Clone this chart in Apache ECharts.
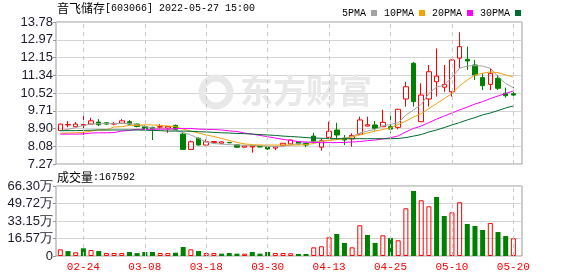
<!DOCTYPE html>
<html><head><meta charset="utf-8">
<script src="https://cdn.jsdelivr.net/npm/echarts@6/dist/echarts.min.js"></script>
<style>html,body{margin:0;padding:0;background:#fff}#c{width:578px;height:276px}</style>
</head><body><div id="c"></div>
<script>
var dates = ['02-21','02-22','02-23','02-24','02-25','02-28','03-01','03-02','03-03','03-04','03-07','03-08','03-09','03-10','03-11','03-14','03-15','03-16','03-17','03-18','03-21','03-22','03-23','03-24','03-25','03-28','03-29','03-30','03-31','04-01','04-06','04-07','04-08','04-11','04-12','04-13','04-14','04-15','04-18','04-19','04-20','04-21','04-22','04-25','04-26','04-27','04-28','04-29','05-05','05-06','05-09','05-10','05-11','05-12','05-13','05-16','05-17','05-18','05-19','05-20'];
var openP = [8.80,9.06,8.98,9.04,9.10,9.19,9.16,9.10,9.14,9.21, 9.10,8.98,8.95,8.96,8.92,9.04,8.64,7.94,8.45,8.14, 8.25,8.22,8.26,8.15,8.04,8.05,8.07,8.06,8.00,8.13, 8.19,8.29,8.22,8.55,8.04,8.49,8.83,8.45,8.42,8.64, 9.01,9.06,8.98,8.98,8.95,10.25,11.89,9.21,10.25,11.04, 10.79,10.58,12.12,12.07,11.81,11.23,10.92,11.20,10.51,10.49];
var closeP = [9.10,9.08,9.10,9.08,9.25,9.07,9.10,9.13,9.25,9.10, 8.99,8.89,8.88,8.98,8.99,8.86,7.94,8.29,8.14,8.29, 8.30,8.28,8.24,8.04,8.10,8.09,8.05,7.96,8.06,8.22, 8.37,8.19,8.14,8.29,8.34,8.77,8.60,8.37,8.58,9.29, 9.07,8.91,9.18,8.87,9.78,10.81,10.13,10.43,11.50,11.30, 10.92,12.04,12.65,11.99,11.35,10.86,11.43,10.74,10.40,10.43];
var lowP = [8.78,8.95,8.95,8.60,9.08,9.01,9.07,9.04,9.12,9.07, 8.95,8.86,8.37,8.86,8.70,8.84,7.92,7.92,8.12,8.12, 8.22,8.20,8.23,8.02,8.03,7.79,8.04,7.92,7.91,8.12, 8.17,8.17,8.04,8.22,7.88,8.47,8.37,8.14,8.06,8.60, 9.00,8.80,8.96,8.68,8.86,9.90,9.90,9.20,9.90,10.36, 10.58,10.36,11.66,11.58,11.12,10.66,10.66,10.66,10.31,10.38];
var highP = [9.12,9.24,9.19,9.52,9.39,9.33,9.19,9.19,9.33,9.29, 9.12,9.04,8.98,9.10,9.00,9.08,8.75,8.34,8.49,8.40, 8.32,8.31,8.27,8.16,8.11,8.10,8.08,8.07,8.07,8.23, 8.38,8.31,8.24,8.70,8.45,9.21,9.16,8.60,8.68,9.44, 9.44,9.24,9.75,9.47,9.80,11.04,11.95,10.97,11.81,12.57, 11.81,12.07,13.31,12.65,12.04,11.43,11.66,11.35,10.77,10.80];
var volume = [63000,47000,35000,73000,57000,47000,28000,28000,28000,38000, 28000,38000,38000,28000,28000,31000,85000,63000,47000,28000, 28000,22000,28000,22000,22000,38000,22000,38000,28000,28000, 26000,19000,19000,82000,92000,177000,208000,123000,82000,291000, 199000,123000,196000,170000,149000,452000,616000,528000,471000,559000, 379000,414000,509000,303000,284000,246000,313000,227000,189000,167592];
var ma5 = [8.80,8.86,8.94,9.04,9.10,9.12,9.12,9.12,9.13,9.13, 9.07,8.99,8.92,8.89,8.86,8.81,8.71,8.60,8.44,8.28, 8.21,8.18,8.16,8.14,8.13,8.12,8.11,8.08,8.08,8.08, 8.14,8.21,8.26,8.29,8.32,8.36,8.42,8.46,8.54,8.69, 8.78,8.86,9.02,9.08,9.16,9.51,9.75,10.00,10.50,10.80, 10.88,11.24,11.66,11.76,11.78,11.76,11.66,11.28,10.96,10.77];
var ma10 = [8.68,8.69,8.70,8.72,8.78,8.83,8.83,8.97,8.98,9.04, 9.04,9.07,9.06,9.04,9.01,8.99,8.87,8.78,8.69,8.60, 8.53,8.44,8.35,8.26,8.19,8.16,8.14,8.14,8.14,8.14, 8.14,8.14,8.16,8.21,8.30,8.35,8.39,8.42,8.51,8.60, 8.69,8.78,8.85,8.93,9.08,9.24,9.42,9.58,9.81,10.04, 10.27,10.50,10.85,11.12,11.35,11.43,11.49,11.46,11.35,11.26];
var ma20 = [8.64,8.64,8.64,8.65,8.69,8.70,8.70,8.71,8.78,8.81, 8.86,8.86,8.86,8.87,8.87,8.89,8.90,8.90,8.87,8.86, 8.85,8.83,8.79,8.76,8.69,8.64,8.58,8.52,8.46,8.40, 8.35,8.30,8.28,8.26,8.25,8.25,8.25,8.26,8.28,8.30, 8.34,8.37,8.42,8.47,8.56,8.74,8.90,9.01,9.17,9.33, 9.47,9.61,9.75,9.88,10.02,10.13,10.27,10.39,10.50,10.62];
var ma30 = [8.80,8.80,8.80,8.81,8.82,8.83,8.83,8.83,8.83,8.83, 8.83,8.82,8.81,8.80,8.78,8.78,8.78,8.77,8.75,8.74, 8.72,8.70,8.69,8.67,8.66,8.64,8.62,8.60,8.58,8.55, 8.53,8.51,8.48,8.46,8.45,8.44,8.43,8.43,8.43,8.43, 8.43,8.43,8.43,8.43,8.44,8.48,8.55,8.62,8.74,8.83, 8.94,9.06,9.17,9.29,9.40,9.52,9.61,9.72,9.84,9.93];
var priceTicks = ['7.27','8.08','8.90','9.71','10.52','11.34','12.15','12.97','13.78'];
var volTicks = ['0','16.57万','33.15万','49.72万','66.30万'];
var gridDates = ['02-24','03-08','03-18','03-30','04-13','04-25','05-10','05-20'];

var RED = '#ff0000', GREEN = '#008000';
var chart = echarts.init(document.getElementById('c'), null, {renderer: 'canvas'});

var kData = dates.map(function (d, i) { return [openP[i], closeP[i], lowP[i], highP[i]]; });
var volData = volume.map(function (v, i) {
  var up = i === 0 || closeP[i] >= closeP[i - 1];
  return {value: v, itemStyle: up ? {color: 'rgba(255,255,255,0)', borderColor: RED, borderWidth: 1} : {color: GREEN, borderWidth: 0}};
});
var dashLines = gridDates.map(function (d) { return {xAxis: d}; });
function markL() {
  return {silent: true, symbol: ['none', 'none'], label: {show: false},
    lineStyle: {color: '#c8c8c8', type: [4, 4], width: 1}, emphasis: {disabled: true}, data: dashLines};
}
var axFont = {fontFamily: 'Liberation Sans, Arial', fontSize: 13, color: '#1a1a2a'};
function maSeries(name, data, color) {
  return {name: name, type: 'line', xAxisIndex: 0, yAxisIndex: 0, data: data, symbol: 'none', showSymbol: false,
    lineStyle: {width: 1, color: color}, itemStyle: {color: color}, z: 4, silent: true};
}

chart.setOption({
  animation: false,
  backgroundColor: '#fff',
  legend: {
    data: ['5PMA', '10PMA', '20PMA', '30PMA'], left: 337, top: 3, icon: 'rect', itemWidth: 6, itemHeight: 6,
    itemGap: 7, align: 'right', selectedMode: false,
    textStyle: {fontFamily: 'Liberation Mono, monospace', fontSize: 10, color: '#000', padding: [0, 0, 0, 0]}
  },
  graphic: [
    {type: 'text', left: 57, top: 2, z: 10, style: {text: '{a|音飞储存}{b|[603066] 2022-05-27 15:00}',
      rich: {a: {fontFamily: 'Noto Sans CJK SC', fontSize: 12, fill: '#000'}, b: {fontFamily: 'Liberation Mono, monospace', fontSize: 10, fill: '#000'}}}},
    {type: 'text', left: 57, top: 171, z: 10, style: {text: '{a|成交量}{b|:167592}',
      rich: {a: {fontFamily: 'Noto Sans CJK SC', fontSize: 12, fill: '#000'}, b: {fontFamily: 'Liberation Mono, monospace', fontSize: 10, fill: '#000'}}}},
    {type: 'circle', z: 1, shape: {cx: 216, cy: 92, r: 14}, style: {fill: 'none', stroke: '#e8e8e8', lineWidth: 7}},
    {type: 'text', left: 240, top: 74, z: 1, style: {text: '东方财富', fontFamily: 'Noto Sans CJK SC', fontWeight: 'bold', fontSize: 33, fill: '#e8e8e8'}}
  ],
  grid: [
    {left: 56.5, top: 22, width: 460.7, height: 142, show: false},
    {left: 56, top: 22, width: 466, height: 142, show: true, borderColor: '#999', borderWidth: 1, backgroundColor: 'transparent'},
    {left: 56.5, top: 186, width: 460.7, height: 70, show: false},
    {left: 56, top: 186, width: 466, height: 70, show: true, borderColor: '#999', borderWidth: 1, backgroundColor: 'transparent'}
  ],
  xAxis: [
    {type: 'category', gridIndex: 0, data: dates, boundaryGap: true, axisLine: {show: false}, axisTick: {show: false}, axisLabel: {show: false}, splitLine: {show: false}},
    {type: 'value', gridIndex: 1, min: 0, max: 1, show: false},
    {type: 'category', gridIndex: 2, data: dates, boundaryGap: true, axisLine: {show: false}, axisTick: {show: false}, splitLine: {show: false},
      axisLabel: {show: true, interval: function (idx) { return (idx - 3) % 8 === 0; }, color: RED, fontFamily: 'Liberation Mono, monospace', fontSize: 11, margin: 6}},
    {type: 'value', gridIndex: 3, min: 0, max: 1, show: false}
  ],
  yAxis: [
    {type: 'value', gridIndex: 0, min: 7.27, max: 13.78, show: false},
    {type: 'value', gridIndex: 1, min: 0, max: 8, interval: 1,
      axisLine: {show: false}, axisTick: {show: true, length: 3, lineStyle: {color: '#999'}},
      axisLabel: Object.assign({margin: 3, formatter: function (v) { return priceTicks[v]; }}, axFont),
      splitLine: {show: true, lineStyle: {color: '#d4d4d4', width: 1}}},
    {type: 'value', gridIndex: 2, min: 0, max: 663000, show: false},
    {type: 'value', gridIndex: 3, min: 0, max: 4, interval: 1,
      axisLine: {show: false}, axisTick: {show: true, length: 3, lineStyle: {color: '#999'}},
      axisLabel: Object.assign({margin: 3, formatter: function (v) { return volTicks[v]; }}, axFont),
      splitLine: {show: true, lineStyle: {color: '#d4d4d4', width: 1}}}
  ],
  series: [
    {type: 'line', xAxisIndex: 0, yAxisIndex: 0, data: [], z: 1, silent: true, markLine: markL()},
    {type: 'line', xAxisIndex: 2, yAxisIndex: 2, data: [], z: 1, silent: true, markLine: markL()},
    {type: 'candlestick', name: 'K', xAxisIndex: 0, yAxisIndex: 0, data: kData, barWidth: 5, z: 3, silent: true,
      itemStyle: {color: 'rgba(255,255,255,0)', color0: GREEN, borderColor: RED, borderColor0: GREEN, borderWidth: 1}},
    maSeries('5PMA', ma5, '#a3a3a3'),
    maSeries('10PMA', ma10, '#f0a30a'),
    maSeries('20PMA', ma20, '#ff00ff'),
    maSeries('30PMA', ma30, '#006b30'),
    {type: 'bar', name: 'VOL', xAxisIndex: 2, yAxisIndex: 2, data: volData, barWidth: 5, z: 3, silent: true}
  ]
});
</script></body></html>
